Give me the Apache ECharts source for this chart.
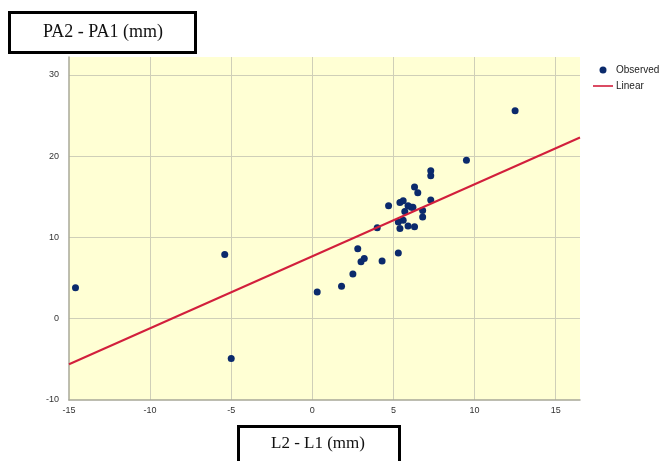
<!DOCTYPE html>
<html>
<head>
<meta charset="utf-8">
<script src="https://cdn.jsdelivr.net/npm/echarts@6/dist/echarts.min.js"></script>
<style>
  html, body { margin: 0; padding: 0; background: #fff; }
  #chart { width: 662px; height: 461px; }
</style>
</head>
<body>
<div id="chart"></div>
<script>
// observed points (L2 - L1, PA2 - PA1)
const obsX = [-14.6, -5.4, -5.0, 0.3, 1.8, 2.5, 3.0, 3.2, 2.8, 4.3, 5.3, 4.0,
  5.3, 5.6, 5.4, 5.9, 6.3, 5.7, 6.8, 6.8, 6.1, 6.2, 5.9, 5.4, 5.6, 4.7,
  7.3, 6.5, 6.3, 7.3, 7.3, 9.5, 12.5]
const obsY = [3.8, 7.9, -4.9, 3.3, 4.0, 5.5, 7.0, 7.4, 8.6, 7.1, 8.1, 11.2,
  11.9, 12.1, 11.1, 11.4, 11.3, 13.2, 13.3, 12.5, 13.7, 13.7, 13.9, 14.3, 14.5, 13.9,
  14.6, 15.5, 16.2, 17.6, 18.2, 19.5, 25.6]

// fitted linear line end points
const lineX = [-15, 16.5]
const lineY = [-5.6, 22.3]

const xTicks = { min: -15, max: 16.5, interval: 5 }
const yTicks = { min: -10, max: 32.2, interval: 10 }

const chart = echarts.init(document.getElementById('chart'))

const axisCommon = {
  type: 'value',
  axisLine: { show: true, onZero: false, lineStyle: { color: '#a8a898', width: 1.5 } },
  axisTick: { show: false },
  axisLabel: { color: '#333', fontSize: 9, fontFamily: 'Arial, Liberation Sans, sans-serif', showMaxLabel: false },
  splitLine: { show: true, showMinLine: false, showMaxLine: false, lineStyle: { color: '#cfcfb8', width: 1 } }
}

const option = {
  animation: false,
  grid: {
    left: 69, right: 82, top: 57, bottom: 61,
    show: true, backgroundColor: '#ffffd4', borderWidth: 0
  },
  legend: {
    orient: 'vertical',
    left: 588, top: 60,
    itemWidth: 20, itemHeight: 7, itemGap: 6,
    textStyle: { fontSize: 10, color: '#222', fontFamily: 'Arial, Liberation Sans, sans-serif', padding: [0, 0, 0, -2] },
    data: [
      { name: 'Observed', icon: 'circle' },
      { name: 'Linear', icon: 'path://M0,3 H20 V4.6 H0 Z' }
    ]
  },
  xAxis: Object.assign({}, axisCommon, xTicks, {
    axisLabel: Object.assign({}, axisCommon.axisLabel, { margin: 6 })
  }),
  yAxis: Object.assign({}, axisCommon, yTicks, {
    axisLabel: Object.assign({}, axisCommon.axisLabel, { margin: 10 })
  }),
  series: [
    {
      name: 'Observed',
      type: 'scatter',
      symbolSize: 7,
      itemStyle: { color: '#0b2a6c', opacity: 1 },
      data: obsX.map((x, i) => [x, obsY[i]])
    },
    {
      name: 'Linear',
      type: 'line',
      symbol: 'none',
      lineStyle: { color: '#d21f3c', width: 2 },
      itemStyle: { color: '#d21f3c' },
      data: lineX.map((x, i) => [x, lineY[i]])
    }
  ],
  graphic: [
    {
      type: 'group',
      children: [
        { type: 'rect', shape: { x: 9.5, y: 12.5, width: 186, height: 40 },
          style: { fill: '#fff', stroke: '#000', lineWidth: 3 } },
        { type: 'text', x: 103, y: 32,
          style: { text: 'PA2 - PA1 (mm)', font: '18px "Liberation Serif", "Times New Roman", serif',
            fill: '#111', align: 'center', verticalAlign: 'middle' } }
      ]
    },
    {
      type: 'group',
      children: [
        { type: 'rect', shape: { x: 238.5, y: 426.5, width: 161, height: 50 },
          style: { fill: '#fff', stroke: '#000', lineWidth: 3 } },
        { type: 'text', x: 318, y: 444,
          style: { text: 'L2 - L1 (mm)', font: '17px "Liberation Serif", "Times New Roman", serif',
            fill: '#111', align: 'center', verticalAlign: 'middle' } }
      ]
    }
  ]
}

chart.setOption(option)
</script>
</body>
</html>
